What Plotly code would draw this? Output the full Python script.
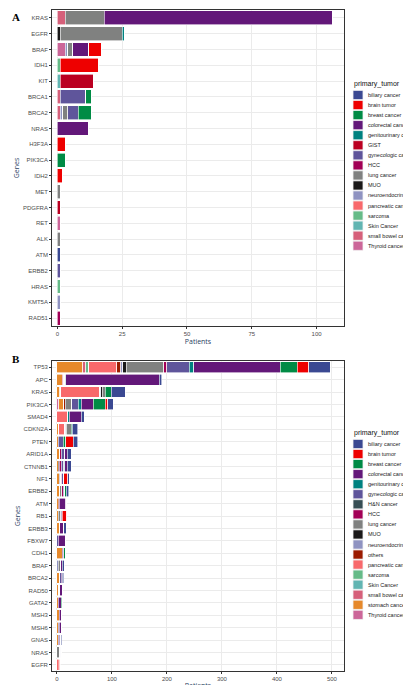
import plotly.graph_objects as go

# ---- colours (AAAS-like palette) ----
COLORS = {
    "biliary cancer": "#3B4992", "brain tumor": "#EE0000", "breast cancer": "#008B45",
    "colorectal cancer": "#631879", "genitourinary cancer": "#008280", "GIST": "#BB0021",
    "gynecologic cancer": "#5F559B", "H&N cancer": "#374E55", "HCC": "#A20056",
    "lung cancer": "#808180", "MUO": "#1B1919", "neuroendocrine tumor": "#8F93C1",
    "others": "#9B1B00", "pancreatic cancer": "#F8696B", "sarcoma": "#66BB88",
    "Skin Cancer": "#62B5B2", "small bowel cance": "#D6607A", "stomach cancer": "#E6892B",
    "Thyroid cancer": "#CC6699",
}

# ---- panel A ----
genes_a = ["KRAS", "EGFR", "BRAF", "IDH1", "KIT", "BRCA1", "BRCA2", "NRAS", "H3F3A", "PIK3CA",
           "IDH2", "MET", "PDGFRA", "RET", "ALK", "ATM", "ERBB2", "HRAS", "KMT5A", "RAD51"]
a_small_bowel = [3, 0, 0, 0, 0, 1, 1, 0, 0, 0, 0, 0, 0, 0, 0, 0, 0, 0, 0, 0]
a_thyroid     = [0, 0, 3, 0, 0, 0, 0, 0, 0, 0, 0, 0, 0, 1, 0, 0, 0, 0, 0, 0]
a_neuro       = [0, 0, 1, 0, 0, 0, 1, 0, 0, 0, 0, 0, 0, 0, 0, 0, 0, 0, 1, 0]
a_mup         = [0, 1, 0, 0, 0, 0, 0, 0, 0, 0, 0, 0, 0, 0, 0, 0, 0, 0, 0, 0]
a_sarcoma     = [0, 0, 0, 1, 0, 0, 0, 0, 0, 0, 0, 0, 0, 0, 0, 0, 0, 1, 0, 0]
a_skin        = [0, 0, 0, 0, 1, 0, 0, 0, 0, 0, 0, 0, 0, 0, 0, 0, 0, 0, 0, 0]
a_lung        = [15, 24, 2, 0, 0, 0, 2, 0, 0, 0, 0, 1, 0, 0, 1, 0, 0, 0, 0, 0]
a_gyn         = [0, 0, 0, 0, 0, 10, 4, 0, 0, 0, 0, 0, 0, 0, 0, 0, 1, 0, 0, 0]
a_colorectal  = [88, 0, 6, 0, 0, 0, 0, 12, 0, 0, 0, 0, 0, 0, 0, 0, 0, 0, 0, 0]
a_genito      = [0, 1, 0, 0, 0, 0, 0, 0, 0, 0, 0, 0, 0, 0, 0, 0, 0, 0, 0, 0]
a_gist        = [0, 0, 0, 0, 13, 0, 0, 0, 0, 0, 0, 0, 1, 0, 0, 0, 0, 0, 0, 0]
a_breast      = [0, 0, 0, 0, 0, 2, 5, 0, 0, 3, 0, 0, 0, 0, 0, 0, 0, 0, 0, 0]
a_brain       = [0, 0, 5, 15, 0, 0, 0, 0, 3, 0, 2, 0, 0, 0, 0, 0, 0, 0, 0, 0]
a_hcc         = [0, 0, 0, 0, 0, 0, 0, 0, 0, 0, 0, 0, 0, 0, 0, 0, 0, 0, 0, 1]
a_biliary     = [0, 0, 0, 0, 0, 0, 0, 0, 0, 0, 0, 0, 0, 0, 0, 1, 0, 0, 0, 0]

stack_a = [("small bowel cance", a_small_bowel), ("Thyroid cancer", a_thyroid),
           ("neuroendocrine tumor", a_neuro), ("MUO", a_mup), ("sarcoma", a_sarcoma),
           ("Skin Cancer", a_skin), ("lung cancer", a_lung), ("gynecologic cancer", a_gyn),
           ("colorectal cancer", a_colorectal), ("genitourinary cancer", a_genito),
           ("GIST", a_gist), ("breast cancer", a_breast), ("brain tumor", a_brain),
           ("HCC", a_hcc), ("biliary cancer", a_biliary)]
legend_a = ["biliary cancer", "brain tumor", "breast cancer", "colorectal cancer",
            "genitourinary cancer", "GIST", "gynecologic cancer", "HCC", "lung cancer", "MUO",
            "neuroendocrine tumor", "pancreatic cancer", "sarcoma", "Skin Cancer",
            "small bowel cance", "Thyroid cancer"]

# ---- panel B ----
genes_b = ["TP53", "APC", "KRAS", "PIK3CA", "SMAD4", "CDKN2A", "PTEN", "ARID1A", "CTNNB1", "NF1",
           "ERBB2", "ATM", "RB1", "ERBB3", "FBXW7", "CDH1", "BRAF", "BRCA2", "RAD50", "GATA2",
           "MSH3", "MSH6", "GNAS", "NRAS", "EGFR"]
b_thyroid     = [0, 0, 0, 3, 0, 0, 0, 0, 0, 0, 0, 0, 0, 0, 0, 0, 0, 0, 0, 0, 0, 0, 0, 0, 0]
b_stomach     = [47, 10, 5, 9, 0, 3, 2, 5, 2, 4, 5, 2, 2, 5, 0, 10, 0, 5, 3, 2, 4, 2, 2, 0, 0]
b_small_bowel = [5, 2, 2, 0, 0, 0, 0, 0, 0, 0, 0, 0, 0, 0, 0, 0, 0, 0, 0, 0, 0, 0, 0, 0, 0]
b_sarcoma     = [6, 0, 0, 0, 0, 0, 0, 0, 0, 0, 0, 0, 0, 0, 0, 0, 0, 0, 0, 0, 0, 0, 0, 0, 0]
b_skin        = [0, 2, 0, 0, 0, 0, 0, 0, 0, 0, 0, 0, 0, 0, 0, 0, 0, 0, 0, 0, 0, 0, 0, 0, 0]
b_pancreatic  = [51, 0, 71, 0, 20, 11, 0, 0, 0, 0, 0, 0, 0, 0, 0, 0, 0, 0, 0, 0, 0, 0, 0, 0, 2]
b_others      = [7, 0, 0, 3, 0, 0, 0, 0, 0, 0, 0, 2, 0, 0, 0, 0, 0, 0, 2, 0, 0, 0, 0, 0, 0]
b_neuro       = [4, 0, 2, 0, 0, 2, 0, 0, 0, 3, 0, 0, 0, 0, 0, 0, 2, 0, 0, 0, 0, 0, 0, 0, 0]
b_mup         = [6, 0, 2, 0, 0, 2, 0, 0, 2, 0, 0, 0, 0, 0, 0, 0, 0, 0, 0, 0, 0, 0, 0, 0, 0]
b_lung        = [68, 0, 6, 12, 0, 8, 0, 0, 0, 0, 4, 0, 5, 0, 0, 0, 5, 0, 0, 0, 0, 0, 0, 5, 0]
b_hcc         = [6, 0, 0, 0, 0, 0, 0, 3, 4, 2, 2, 0, 1, 0, 0, 0, 0, 0, 0, 0, 0, 0, 0, 0, 0]
b_gyn         = [41, 0, 0, 12, 0, 0, 9, 6, 4, 3, 3, 0, 2, 0, 2, 0, 0, 3, 0, 0, 0, 2, 2, 2, 0]
b_genito      = [8, 2, 0, 5, 2, 0, 0, 0, 2, 0, 0, 0, 0, 0, 0, 0, 0, 0, 0, 0, 0, 0, 0, 0, 0]
b_colorectal  = [157, 170, 0, 22, 22, 0, 0, 5, 5, 0, 0, 12, 0, 7, 14, 2, 3, 2, 5, 6, 5, 5, 3, 1, 0]
b_breast      = [31, 0, 11, 22, 0, 2, 5, 0, 0, 0, 3, 2, 0, 0, 0, 3, 0, 0, 0, 2, 0, 0, 0, 0, 0]
b_brain       = [21, 0, 0, 4, 0, 0, 14, 0, 0, 8, 0, 0, 8, 0, 0, 0, 0, 0, 0, 0, 0, 0, 0, 0, 3]
b_biliary     = [39, 5, 25, 10, 6, 10, 8, 7, 7, 2, 4, 0, 0, 5, 0, 0, 3, 2, 0, 0, 0, 0, 2, 0, 1]

stack_b = [("Thyroid cancer", b_thyroid), ("stomach cancer", b_stomach),
           ("small bowel cance", b_small_bowel), ("sarcoma", b_sarcoma), ("Skin Cancer", b_skin),
           ("pancreatic cancer", b_pancreatic), ("others", b_others),
           ("neuroendocrine tumor", b_neuro), ("MUO", b_mup), ("lung cancer", b_lung),
           ("HCC", b_hcc), ("gynecologic cancer", b_gyn), ("genitourinary cancer", b_genito),
           ("colorectal cancer", b_colorectal), ("breast cancer", b_breast),
           ("brain tumor", b_brain), ("biliary cancer", b_biliary)]
legend_b = ["biliary cancer", "brain tumor", "breast cancer", "colorectal cancer",
            "genitourinary cancer", "gynecologic cancer", "H&N cancer", "HCC", "lung cancer",
            "MUO", "neuroendocrine tumor", "others", "pancreatic cancer", "sarcoma",
            "Skin Cancer", "small bowel cance", "stomach cancer", "Thyroid cancer"]

W, H = 411, 685
ML, MR, MT, MB = 44, 75, 2, 22
PW, PH = W - ML - MR, H - MT - MB


def px_x(px):
    return (px - ML) / PW


def px_y(py):
    return (H - MB - py) / PH


fig = go.Figure()

for stack, genes, xa, ya in [(stack_a, genes_a, "x", "y"), (stack_b, genes_b, "x2", "y2")]:
    for name, vals in stack:
        fig.add_trace(go.Bar(
            x=vals, y=genes, orientation="h", name=name, showlegend=False,
            marker=dict(color=COLORS[name], line=dict(color="white", width=0.6)),
            xaxis=xa, yaxis=ya,
            hovertemplate=f"{name}<br>%{{y}}: %{{x}}<extra></extra>",
        ))

# ggplot-style legends drawn as swatches + labels
shapes, annotations = [], []
for order, first_px in [(legend_a, 87), (legend_b, 436)]:
    annotations.append(dict(text="primary_tumor", x=px_x(344), y=px_y(first_px - 11),
                            xref="paper", yref="paper", xanchor="left", yanchor="middle",
                            showarrow=False, font=dict(size=7, family="Liberation Sans", color="#111")))
    for i, name in enumerate(order):
        cy = first_px + 10.05 * i
        shapes.append(dict(type="rect", xref="paper", yref="paper",
                           x0=px_x(345), x1=px_x(355), y0=px_y(cy - 4.6), y1=px_y(cy + 4.6),
                           fillcolor=COLORS[name], line=dict(color="#f2f2f2", width=0.8)))
        annotations.append(dict(text=name, x=px_x(358), y=px_y(cy), xref="paper", yref="paper",
                                xanchor="left", yanchor="middle", showarrow=False,
                                font=dict(size=5.5, family="Liberation Sans", color="#222")))

annotations += [
    dict(text="<b>A</b>", x=px_x(2), y=px_y(1), xref="paper", yref="paper", showarrow=False,
         xanchor="left", yanchor="top", font=dict(size=11, family="Liberation Serif", color="black")),
    dict(text="<b>B</b>", x=px_x(2), y=px_y(343), xref="paper", yref="paper", showarrow=False,
         xanchor="left", yanchor="top", font=dict(size=11, family="Liberation Serif", color="black")),
]

axis_common = dict(showgrid=True, gridcolor="#ebebeb", gridwidth=0.6, zeroline=False,
                   showline=True, linecolor="#333333", mirror=True, linewidth=0.8,
                   ticks="outside", ticklen=2, tickcolor="#333333",
                   tickfont=dict(size=6, color="#4d4d4d", family="Liberation Sans"))

fig.update_layout(
    width=W, height=H, barmode="stack", bargap=0.12, showlegend=False,
    margin=dict(l=ML, r=MR, t=MT, b=MB),
    plot_bgcolor="white", paper_bgcolor="white",
    xaxis=dict(**axis_common, domain=[0, 1], anchor="y", range=[-2.1, 110.6],
               tickvals=[0, 25, 50, 75, 100],
               title=dict(text="Patients", font=dict(size=7), standoff=2)),
    yaxis=dict(**axis_common, domain=[px_y(318), 1], anchor="x", autorange="reversed",
               title=dict(text="Genes", font=dict(size=7), standoff=2)),
    xaxis2=dict(**axis_common, domain=[0, 1], anchor="y2", range=[-9, 522],
                tickvals=[0, 100, 200, 300, 400, 500],
                title=dict(text="Patients", font=dict(size=7), standoff=2)),
    yaxis2=dict(**axis_common, domain=[0, px_y(353)], anchor="x2", autorange="reversed",
                title=dict(text="Genes", font=dict(size=7), standoff=2)),
    shapes=shapes,
    annotations=annotations,
)

fig.write_html("out.html")
